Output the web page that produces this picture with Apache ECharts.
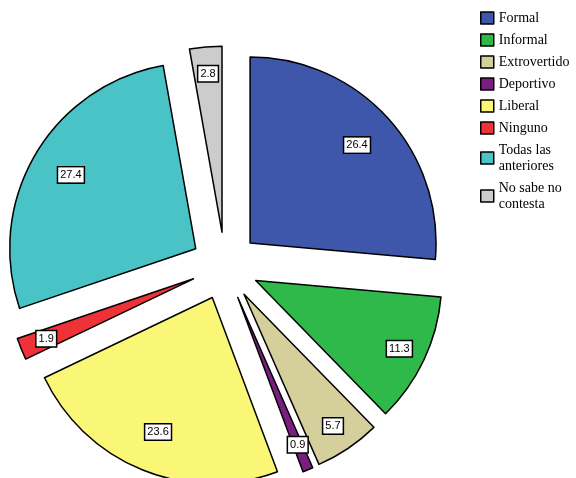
<!DOCTYPE html>
<html><head><meta charset="utf-8">
<script src="https://cdn.jsdelivr.net/npm/echarts@6/dist/echarts.min.js"></script>
<style>html,body{margin:0;padding:0;background:#fff}#c{width:576px;height:478px}</style>
</head><body><div id="c"></div>
<script>
const categories = ['Formal','Informal','Extrovertido','Deportivo','Liberal','Ninguno','Todas las\nanteriores','No sabe no\ncontesta'];
const values = [26.4, 11.3, 5.7, 0.9, 23.6, 1.9, 27.4, 2.8];
const colors = ['#3F57AA','#2FB94A','#D5CF9B','#7A1F80','#FAF777','#EE3238','#4AC3C7','#CCCCCC'];
const bigLabel = [true,false,false,false,true,false,true,false];

const center = [225, 266];
const R = 186;
const offset = 34;

function overlay(big, r0){
  return {
    type:'pie', center:center, radius:[r0, R], startAngle:90, clockwise:true,
    selectedMode:'multiple', selectedOffset:offset, silent:true, animation:false,
    avoidLabelOverlap:false, z:5,
    itemStyle:{color:'rgba(0,0,0,0)', borderWidth:0},
    label:{show:true, position:'inside', formatter:'{c}', color:'#000', fontFamily:'Liberation Sans', fontSize:11,
      backgroundColor:'#fff', borderColor:'#000', borderWidth:1.5, padding:[2,2,1,2], lineHeight:12},
    labelLine:{show:false},
    emphasis:{disabled:true},
    data: categories.map((n,i)=>({name:n, value:values[i], selected:true,
      label:{show: bigLabel[i]===big}}))
  };
}

const chart = echarts.init(document.getElementById('c'), null, {renderer:'canvas'});
chart.setOption({
  animation:false,
  legend:{
    orient:'vertical', left:475, top:5, itemWidth:13, itemHeight:12, itemGap:6,
    icon:'rect', selectedMode:false,
    itemStyle:{borderColor:'#000', borderWidth:1.5},
    textStyle:{fontFamily:'Liberation Serif', fontSize:14, color:'#000', lineHeight:16},
    data: categories
  },
  series:[
    {
      type:'pie', center:center, radius:[0, R], startAngle:90, clockwise:true,
      selectedMode:'multiple', selectedOffset:offset, silent:true, animation:false,
      avoidLabelOverlap:false, z:2,
      itemStyle:{borderColor:'#000', borderWidth:1.5},
      label:{show:false}, labelLine:{show:false},
      emphasis:{disabled:true},
      data: categories.map((n,i)=>({name:n, value:values[i], selected:true, itemStyle:{color:colors[i]}}))
    },
    overlay(true, 98),
    overlay(false, 126)
  ]
});
</script>
</body></html>
